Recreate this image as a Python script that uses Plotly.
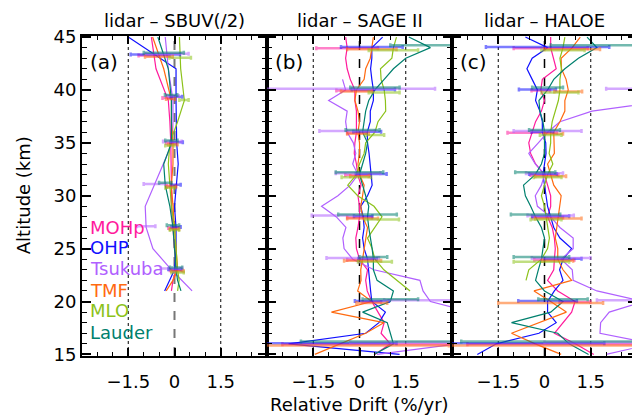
import numpy as np
import plotly.graph_objects as go
from plotly.subplots import make_subplots

STATIONS = ["MOHp", "OHP", "Tsukuba", "TMF", "MLO", "Lauder"]
COLORS = ["#FF1A9C", "#1010FF", "#B060FF", "#FF6A10", "#8CC21A", "#00806E"]
BAR_COLORS = ["rgba(255,26,156,0.55)", "rgba(16,16,255,0.55)", "rgba(176,96,255,0.55)",
              "rgba(255,106,16,0.55)", "rgba(140,194,26,0.55)", "rgba(0,128,110,0.55)"]
BAR_OFFSET = [-0.05, 0.05, 0.12, -0.15, -0.25, 0.22]

PANEL_TITLES = ["lidar \u2013 SBUV(/2)", "lidar \u2013 SAGE II", "lidar \u2013 HALOE"]
PANEL_TAGS = ["(a)", "(b)", "(c)"]
X_TICKS = [-1.5, 0, 1.5]
X_TICKTEXT = ["\u22121.5", "0", "1.5"]
Y_TICKS = [15, 20, 25, 30, 35, 40, 45]

# ---------------- panel (a): lidar - SBUV(/2) ----------------
ALT_A = [21, 22, 23, 25, 27, 29, 31, 33, 35, 37, 39, 42, 45]
MOHP_A    = [-0.10, -0.05, 0.05, 0.00, -0.05, -0.10, -0.10, -0.10, -0.12, -0.15, -0.20, -0.60, -0.75]
OHP_A     = [-0.32, -0.15, 0.00, 0.05, 0.05, 0.00, 0.05, 0.12, 0.07, 0.05, 0.05, 0.05, -1.50]
TSUKUBA_A = [0.57, 0.25, -0.10, -0.70, -0.92, -0.95, -0.65, -0.35, -0.07, -0.05, -0.05, -0.20, -0.30]
TMF_A     = [-0.27, -0.05, 0.10, 0.05, 0.00, -0.05, -0.10, -0.05, -0.05, -0.10, -0.10, -0.35, -0.71]
MLO_A     = [0.10, 0.15, 0.10, 0.05, 0.00, -0.10, -0.15, -0.20, -0.15, 0.10, 0.32, 0.20, 0.16]
LAUDER_A  = [0.21, 0.10, 0.05, 0.00, -0.05, -0.15, -0.30, -0.35, -0.10, -0.10, -0.10, -0.20, -0.54]
BAR_ALT_A = [23, 27, 31, 35, 39.3, 43.3]
ERR_MOHP_A    = [0.20, 0.15, 0.15, 0.15, 0.15, 0.50]
ERR_OHP_A     = [0.20, 0.15, 0.15, 0.20, 0.20, 0.80]
ERR_TSUKUBA_A = [0.35, 0.30, 0.35, 0.30, 0.20, 0.70]
ERR_TMF_A     = [0.20, 0.15, 0.15, 0.15, 0.15, 0.45]
ERR_MLO_A     = [0.20, 0.15, 0.15, 0.15, 0.15, 0.35]
ERR_LAUDER_A  = [0.20, 0.20, 0.20, 0.20, 0.20, 0.65]

# ---------------- panel (b): lidar - SAGE II ----------------
ALT_B = list(range(15, 46))
MOHP_B = [0.5, 1.0, 0.7, 0.8, 0.6, 0.4, 0.25, 0.2, 0.26, 0.0, -0.1, -0.12, -0.05, 0.0, 0.0, -0.05,
          0.05, -0.06, -0.1, -0.17, -0.15, -0.1, -0.1, -0.1, -0.15, -0.15, -0.3, -0.4, -0.45, -0.4, -0.45]
OHP_B = [1.3, -2.3, 0.2, 0.63, 0.84, 0.4, 0.36, 0.33, 0.31, 0.26, 0.15, 0.1, 0.15, 0.12, 0.04, 0.26,
         0.41, 0.38, 0.33, 0.31, 0.26, 0.25, 0.35, 0.35, 0.45, 0.45, 0.4, 0.36, 0.4, 0.4, 0.75]
TSUKUBA_B = [0.57, 3.2, 3.5, 4.0, 3.6, 2.3, 2.06, 1.96, 0.47, -0.22, -0.5, -0.54, -0.44, -0.75, -1.23, -0.7,
             -0.3, -0.05, -0.22, -0.12, -0.2, -0.4, -0.45, -0.4, -1.0, -0.45, -0.55, None, None, None, None]
TMF_B = [-1.45, -0.6, 0.2, 0.79, -0.91, 0.4, -0.06, 0.05, 0.04, 0.1, 0.15, 0.2, 0.26, 0.1, 0.04, 0.1,
         0.15, 0.0, -0.05, 0.0, 0.0, -0.05, 0.0, -0.05, -0.15, -0.1, 0.15, 0.2, 0.35, 0.4, 0.45]
MLO_B = [None, None, None, None, None, None, 1.64, 1.2, 0.79, 0.5, 0.41, 0.26, 0.5, 0.73, 0.47, -0.06,
         -0.38, -0.1, 0.0, 0.15, 0.2, 0.5, 0.6, 0.85, 0.84, 0.8, 0.7, 0.68, 1.05, 1.1, 1.2]
LAUDER_B = [0.47, 1.1, 1.0, 0.9, 0.1, 1.0, 1.1, 0.57, 0.45, 0.45, 0.41, 0.35, 0.3, 0.26, 0.3, 0.2,
            0.1, 0.0, 0.1, 0.2, 0.26, 0.1, 0.15, 0.2, 0.3, 0.5, 0.8, 1.1, 1.5, 2.3, 1.6]
BAR_ALT_BC = [16, 20, 24, 28, 32, 36, 40, 44]
ERR_MOHP_B    = [3.5, 0.3, 0.4, 0.4, 0.4, 0.3, 0.6, 1.0]
ERR_OHP_B     = [3.5, 0.55, 0.3, 0.3, 0.5, 0.45, 0.7, 1.0]
ERR_TSUKUBA_B = [3.5, 1.5, 0.85, 0.8, 0.72, 0.9, 2.9, None]
ERR_TMF_B     = [3.5, 0.5, 0.6, 0.5, 0.3, 0.35, 0.5, 0.8]
ERR_MLO_B     = [None, None, 0.55, 0.55, 0.48, 0.3, 0.5, 0.8]
ERR_LAUDER_B  = [3.0, 0.9, 0.45, 0.95, 0.77, 0.55, 0.8, 1.3]

# ---------------- panel (c): lidar - HALOE ----------------
MOHP_C = [1.6, 1.0, 0.32, 0.6, 0.88, 0.99, 0.43, 0.1, 0.3, 0.32, 0.35, 0.32, 0.25, 0.1, 0.2, 0.2,
          0.1, 0.0, -0.29, -0.45, -0.51, -0.4, -0.29, -0.1, 0.0, -0.12, -0.07, 0.38, 0.3, 0.2, 0.2]
OHP_C = [-2.18, -1.56, -0.18, 0.38, 0.1, 0.1, 0.32, 0.6, 0.49, 0.6, 0.88, 0.5, 0.3, 0.2, 0.1, 0.05,
         0.0, -0.05, 0.0, 0.05, 0.04, -0.07, -0.07, -0.15, -0.29, -0.23, -0.4, -0.57, -0.4, 0.1, -0.62]
TSUKUBA_C = [2.0, 3.5, 1.8, 1.82, 2.1, 3.2, 1.7, 0.93, 0.9, 0.54, 0.93, 0.93, 0.5, 0.2, -0.23, -0.3,
             -0.1, 0.0, -0.3, -0.51, -0.2, 0.1, 0.5, 1.54, 4.0, 4.5, None, None, None, None, None]
TMF_C = [0.54, -0.3, -1.07, -0.2, 0.71, 0.2, -0.34, 0.88, 0.6, 0.43, 0.43, 0.35, 0.4, 0.45, 0.5, 0.54,
         0.3, 0.2, 0.1, 0.32, 0.3, 0.3, 0.5, 0.66, 0.66, 0.77, 0.7, 0.55, 0.54, 0.9, 1.16]
MLO_C = [None, None, None, None, None, None, None, -0.6, -0.51, -0.1, 0.1, 0.16, 0.1, 0.05, 0.0, -0.1,
         0.0, 0.1, 0.27, 0.15, 0.2, 0.2, 0.25, 0.35, 0.45, 0.5, 0.5, 0.55, 0.5, 0.6, 0.66]
LAUDER_C = [1.43, 0.8, 0.43, -1.07, 0.2, 0.6, 0.0, -0.29, -0.2, -0.1, -0.05, 0.0, -0.1, -0.29, -0.45, -0.62,
            -0.68, -0.3, -0.1, 0.0, 0.0, 0.0, -0.05, -0.15, -0.18, 0.1, 0.3, 0.66, 1.1, 1.7, 1.38]
ERR_MOHP_C    = [3.5, 0.5, 0.65, 0.5, 0.45, 0.8, 0.3, 1.2]
ERR_OHP_C     = [3.5, 0.95, 0.6, 0.6, 0.45, 0.35, 0.6, 2.0]
ERR_TSUKUBA_C = [3.5, 1.5, 0.95, 0.75, 0.6, 1.1, 2.5, None]
ERR_TMF_C     = [3.5, 1.7, 0.5, 0.75, 0.5, 0.3, 0.45, 0.9]
ERR_MLO_C     = [None, None, 0.9, 0.5, 0.45, 0.35, 0.6, 0.7]
ERR_LAUDER_C  = [3.5, 0.8, 0.9, 0.8, 0.65, 0.5, 0.5, 1.5]

PANELS = [
    (ALT_A, [MOHP_A, OHP_A, TSUKUBA_A, TMF_A, MLO_A, LAUDER_A], BAR_ALT_A,
     [ERR_MOHP_A, ERR_OHP_A, ERR_TSUKUBA_A, ERR_TMF_A, ERR_MLO_A, ERR_LAUDER_A]),
    (ALT_B, [MOHP_B, OHP_B, TSUKUBA_B, TMF_B, MLO_B, LAUDER_B], BAR_ALT_BC,
     [ERR_MOHP_B, ERR_OHP_B, ERR_TSUKUBA_B, ERR_TMF_B, ERR_MLO_B, ERR_LAUDER_B]),
    (ALT_B, [MOHP_C, OHP_C, TSUKUBA_C, TMF_C, MLO_C, LAUDER_C], BAR_ALT_BC,
     [ERR_MOHP_C, ERR_OHP_C, ERR_TSUKUBA_C, ERR_TMF_C, ERR_MLO_C, ERR_LAUDER_C]),
]

FONT = "DejaVu Sans"
fig = make_subplots(rows=1, cols=3, shared_yaxes=True, horizontal_spacing=0)

for p, (alts, series, bar_alts, errs) in enumerate(PANELS):
    col = p + 1
    sfx = "" if col == 1 else str(col)
    for xv, dash, colr, w in [(-1.5, "dot", "black", 1), (1.5, "dot", "black", 1),
                              (0, "dash", "#777777" if p == 0 else "black", 2 if p == 0 else 1.5)]:
        fig.add_shape(type="line", x0=xv, x1=xv, y0=0, y1=1, xref=f"x{sfx}",
                      yref=f"y{sfx} domain", line=dict(color=colr, width=w, dash=dash), layer="below")
    for s, vals in enumerate(series):
        fig.add_trace(go.Scatter(x=vals, y=alts, mode="lines", line=dict(color=COLORS[s], width=1.2),
                                 showlegend=False, hoverinfo="skip"), row=1, col=col)
    for s, vals in enumerate(series):
        xa, ya = np.array([np.nan if v is None else v for v in vals]), np.array(alts, float)
        m = ~np.isnan(xa)
        bx, by, be = [], [], []
        for lev, e in zip(bar_alts, errs[s]):
            if e is None:
                continue
            bx.append(float(np.interp(lev, ya[m], xa[m])))
            by.append(lev + BAR_OFFSET[s])
            be.append(e)
        fig.add_trace(go.Scatter(x=bx, y=by, mode="markers", marker=dict(size=1, opacity=0),
                                 error_x=dict(type="data", array=be, color=BAR_COLORS[s], thickness=2.5, width=2),
                                 showlegend=False, hoverinfo="skip"), row=1, col=col)

for col in (1, 2, 3):
    fig.update_xaxes(range=[-3, 3], tickvals=X_TICKS, ticktext=X_TICKTEXT, ticks="inside", ticklen=8,
                     tickwidth=1.5, tickcolor="black", showline=True, linewidth=2, linecolor="black",
                     mirror="ticks", showgrid=False, zeroline=False, ticklabelstandoff=8, automargin=False,
                     minor=dict(dtick=0.5, tick0=0, ticks="inside", ticklen=4, tickcolor="black", tickwidth=1.2),
                     tickfont=dict(family=FONT, size=18, color="black"), row=1, col=col)
    fig.update_yaxes(range=[14.85, 45.1], tickvals=Y_TICKS, ticks="inside", ticklen=9, tickwidth=1.5,
                     tickcolor="black", showline=True, linewidth=2, linecolor="black", mirror="ticks",
                     showgrid=False, zeroline=False, showticklabels=(col == 1), automargin=False,
                     minor=dict(dtick=1, tick0=15, ticks="inside", ticklen=5, tickcolor="black", tickwidth=1.2),
                     tickfont=dict(family=FONT, size=18, color="black"), row=1, col=col)

ann = []
for p in range(3):
    xr = "x domain" if p == 0 else f"x{p+1} domain"
    yr = "y domain" if p == 0 else f"y{p+1} domain"
    ann.append(dict(text=PANEL_TITLES[p], xref=xr, yref=yr, x=0.5, y=1.047, xanchor="center",
                    yanchor="middle", showarrow=False, font=dict(family=FONT, size=18, color="black")))
    ann.append(dict(text=PANEL_TAGS[p], xref=xr, yref=yr, x=0.035, y=0.918, xanchor="left",
                    yanchor="middle", showarrow=False, font=dict(family=FONT, size=20, color="black")))
LEG_Y = [0.403, 0.338, 0.272, 0.206, 0.141, 0.072]
for s, name in enumerate(STATIONS):
    ann.append(dict(text=name, xref="x domain", yref="y domain", x=0.03, y=LEG_Y[s], xanchor="left",
                    yanchor="middle", showarrow=False, font=dict(family=FONT, size=18, color=COLORS[s])))
ann.append(dict(text="Altitude (km)", xref="paper", yref="paper", x=-0.106, y=0.503, textangle=-90,
                xanchor="center", yanchor="middle", showarrow=False,
                font=dict(family=FONT, size=18, color="black")))
ann.append(dict(text="Relative Drift (%/yr)", xref="paper", yref="paper", x=0.5, y=-0.153,
                xanchor="center", yanchor="middle", showarrow=False,
                font=dict(family=FONT, size=18, color="black")))

# the page body adds an 8px offset, so the figure is sized to fill the rest of the window
fig.update_layout(width=632, height=410, margin=dict(l=74, r=3, t=28, b=62, autoexpand=False),
                  paper_bgcolor="white", plot_bgcolor="white", annotations=ann, showlegend=False)
fig.write_html("out.html")
